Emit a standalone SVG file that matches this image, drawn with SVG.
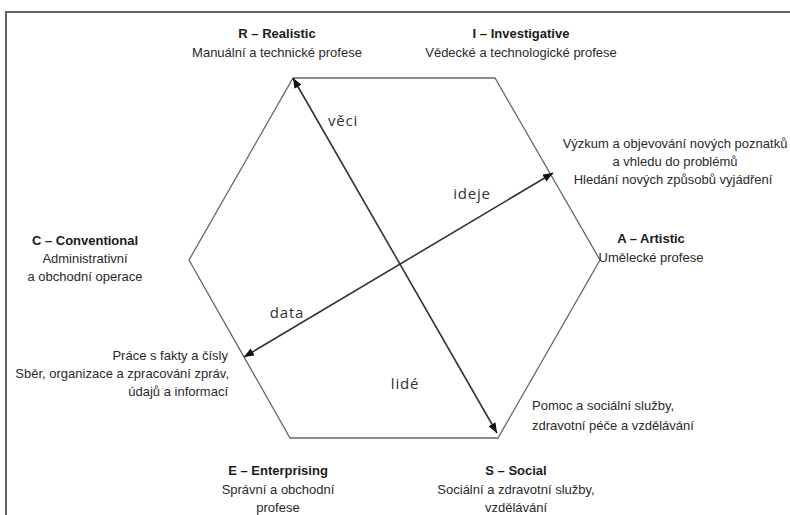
<svg xmlns="http://www.w3.org/2000/svg" width="790" height="515" viewBox="0 0 790 515">
<style>
  .t { font-family: "Liberation Sans", Arial, sans-serif; font-size: 13px; fill: #2a2a2a; text-anchor: middle; }
  .b { font-weight: bold; fill: #1a1a1a; }
  .l { text-anchor: start; }
  .r { text-anchor: end; }
  .lab { font-family: "Open Sans", "DejaVu Sans", sans-serif; font-size: 15px; fill: #333; text-anchor: middle; letter-spacing: 0.8px; }
  .hex { fill: none; stroke: #666; stroke-width: 1.3; }
  .arr { fill: none; stroke: #333; stroke-width: 1.6; marker-start: url(#ah); marker-end: url(#ah); }
  .frame { fill: none; stroke: #666; stroke-width: 2; }
</style>
<defs>
  <marker id="ah" viewBox="0 0 10 8" refX="10" refY="4" markerWidth="10" markerHeight="8" markerUnits="userSpaceOnUse" orient="auto-start-reverse">
    <path d="M0,0 L10,4 L0,8 Z" fill="#111"/>
  </marker>
</defs>
<rect width="790" height="515" fill="#fff"/>
<path class="frame" d="M6,515 V12 H790"/>

<g id="hexagon">
  <polygon class="hex" points="293,78 495,78 600,260 498,438 290,438 189,260"/>
</g>

<g id="connectors">
  <line class="arr" x1="293" y1="78" x2="497" y2="433"/>
  <line class="arr" x1="553" y1="173" x2="244" y2="357"/>
  <text class="lab" x="343" y="126">věci</text>
  <text class="lab" x="472" y="199">ideje</text>
  <text class="lab" x="287" y="318">data</text>
  <text class="lab" x="405" y="389">lidé</text>
</g>

<g id="R">
  <text class="t b" x="277" y="38">R – Realistic</text>
  <text class="t" x="277" y="57">Manuální a technické profese</text>
</g>
<g id="I">
  <text class="t b" x="521" y="38">I – Investigative</text>
  <text class="t" x="521" y="57">Vědecké a technologické profese</text>
</g>
<g id="I-desc">
  <text class="t" x="675" y="148">Výzkum a objevování nových poznatků</text>
  <text class="t" x="675" y="166">a vhledu do problémů</text>
  <text class="t" x="673" y="184">Hledání nových způsobů vyjádření</text>
</g>
<g id="A">
  <text class="t b" x="651" y="243">A – Artistic</text>
  <text class="t" x="651" y="262">Umělecké profese</text>
</g>
<g id="C">
  <text class="t b" x="85" y="245">C – Conventional</text>
  <text class="t" x="85" y="263">Administrativní</text>
  <text class="t" x="85" y="281">a obchodní operace</text>
</g>
<g id="C-desc">
  <text class="t r" x="228" y="360">Práce s fakty a čísly</text>
  <text class="t r" x="229" y="378">Sběr, organizace a zpracování zpráv,</text>
  <text class="t r" x="228" y="396">údajů a informací</text>
</g>
<g id="S-desc">
  <text class="t l" x="532" y="410">Pomoc a sociální služby,</text>
  <text class="t l" x="532" y="430">zdravotní péče a vzdělávání</text>
</g>
<g id="E">
  <text class="t b" x="278" y="475">E – Enterprising</text>
  <text class="t" x="278" y="494">Správní a obchodní</text>
  <text class="t" x="278" y="512">profese</text>
</g>
<g id="S">
  <text class="t b" x="516" y="475">S – Social</text>
  <text class="t" x="516" y="494">Sociální a zdravotní služby,</text>
  <text class="t" x="516" y="512">vzdělávání</text>
</g>
</svg>
